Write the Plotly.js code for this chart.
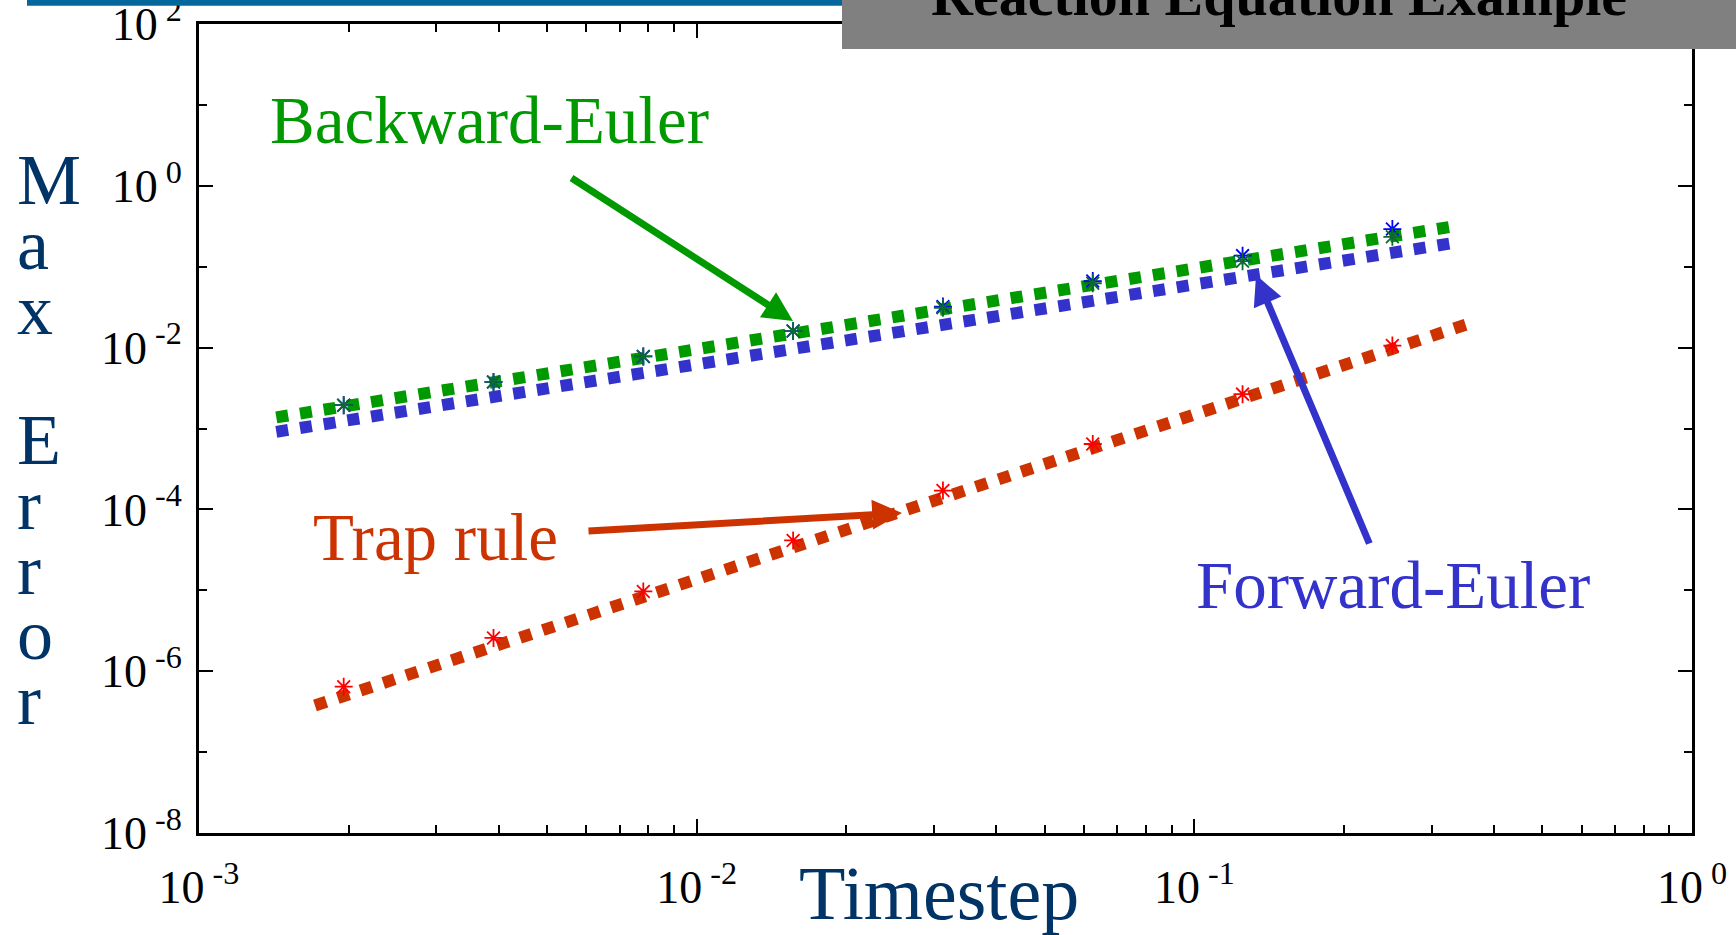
<!DOCTYPE html>
<html><head><meta charset="utf-8">
<script src="https://cdn.plot.ly/plotly-3.0.1.min.js"></script>
<style>html,body{margin:0;padding:0;background:#fff;overflow:hidden}#chart{width:1736px;height:935px;}</style>
</head><body><div id="chart"></div>
<script>
// ---- data ----
const timesteps = [1/512, 1/256, 1/128, 1/64, 1/32, 1/16, 1/8, 1/4];
const backwardEulerError = [0.00194, 0.00376, 0.00777, 0.0160, 0.0311, 0.0624, 0.117, 0.234];
const forwardEulerError  = [0.00194, 0.00376, 0.00777, 0.0160, 0.0321, 0.0664, 0.137, 0.292];
const trapRuleError      = [6.43e-7, 2.58e-6, 9.68e-6, 4.13e-5, 1.71e-4, 6.43e-4, 2.66e-3, 1.06e-2];
const eulerFitX          = [0.00143, 0.327];
const backwardEulerFitY  = [0.00137, 0.311];
const forwardEulerFitY   = [0.00091, 0.194];
const trapFitX           = [0.00171, 0.353];
const trapFitY           = [3.76e-7, 0.0194];
const xTickVals  = [1e-3, 1e-2, 1e-1, 1];
const xTickExp   = ['-3', '-2', '-1', '0'];
const yTickVals  = [1e2, 1, 1e-2, 1e-4, 1e-6, 1e-8];
const yTickExp   = ['2', '0', '-2', '-4', '-6', '-8'];
const yMinorVals = [1e1, 1e-1, 1e-3, 1e-5, 1e-7];
const yTitle = 'Max Error';
const xTitle = 'Timestep';
const slideTitle = 'Reaction Equation Example';
const labelBE = 'Backward-Euler', labelFE = 'Forward-Euler', labelTR = 'Trap rule';

// ---- layout helpers (pixel -> paper) ----
const W = 1736, H = 935, L = 199, R = 1692, T = 24, B = 833;
const px = x => (x - L) / (R - L);
const py = y => (B - y) / (B - T);
const serif = 'Liberation Serif, Times New Roman, serif';
const tickTxt = e => '10<sup>\u00a0' + e + '</sup>';

const GREEN = '#009900', BLUE = '#3333cc', ORANGE = '#cc3300', NAVY = '#003366';
const dotted = (c) => ({color: c, width: 12, dash: '12px,12px'});
const star = (c) => ({symbol: 'asterisk-open', size: 15, color: c, line: {color: c, width: 1.8}});

const traces = [
  {x: eulerFitX, y: forwardEulerFitY, mode: 'lines', line: dotted(BLUE)},
  {x: eulerFitX, y: backwardEulerFitY, mode: 'lines', line: dotted(GREEN)},
  {x: trapFitX, y: trapFitY, mode: 'lines', line: dotted(ORANGE)},
  {x: timesteps, y: forwardEulerError, mode: 'markers', marker: star('#0000ff')},
  {x: timesteps, y: backwardEulerError, mode: 'markers', marker: star('#0b6b2e')},
  {x: timesteps, y: trapRuleError, mode: 'markers', marker: star('#ff0000')}
];

const annotations = [];
// stacked y-axis title
yTitle.split('').forEach((ch, i) => {
  if (ch === ' ') return;
  const baseline = 204 + i * 65;
  annotations.push({xref: 'paper', yref: 'paper', x: px(15), y: py(baseline - 66),
    xanchor: 'left', yanchor: 'top', showarrow: false, text: ch,
    font: {family: serif, size: 72, color: NAVY}});
});
annotations.push({xref: 'paper', yref: 'paper', x: px(939), y: py(849), xanchor: 'center', yanchor: 'top',
  showarrow: false, text: xTitle, font: {family: serif, size: 76, color: NAVY}});
annotations.push({xref: 'paper', yref: 'paper', x: px(1279), y: py(-39), xanchor: 'center', yanchor: 'top',
  showarrow: false, text: '<b>' + slideTitle + '</b>', font: {family: serif, size: 58, color: '#000'}});
annotations.push({xref: 'paper', yref: 'paper', x: px(489), y: py(81), xanchor: 'center', yanchor: 'top',
  showarrow: false, text: labelBE, font: {family: serif, size: 67, color: GREEN}});
annotations.push({xref: 'paper', yref: 'paper', x: px(435), y: py(498), xanchor: 'center', yanchor: 'top',
  showarrow: false, text: labelTR, font: {family: serif, size: 67, color: ORANGE}});
annotations.push({xref: 'paper', yref: 'paper', x: px(1393), y: py(546), xanchor: 'center', yanchor: 'top',
  showarrow: false, text: labelFE, font: {family: serif, size: 67, color: BLUE}});
// arrows
const arrow = (tip, tail, c) => ({xref: 'paper', yref: 'paper', x: px(tip[0]), y: py(tip[1]),
  ax: tail[0] - tip[0], ay: tail[1] - tip[1], text: '', showarrow: true,
  arrowhead: 2, arrowsize: 0.85, arrowwidth: 7, arrowcolor: c, standoff: 0});
annotations.push(arrow([793, 321], [570, 177], GREEN));
annotations.push(arrow([902, 513], [587, 531], ORANGE));
annotations.push(arrow([1256, 275], [1370, 545], BLUE));

const axisCommon = {showline: true, linewidth: 3, linecolor: '#000', mirror: 'ticks',
  ticks: 'inside', ticklen: 14, tickwidth: 2, tickcolor: '#000', showgrid: false, zeroline: false,
  tickfont: {family: serif, size: 46, color: '#000'}, ticklabeloverflow: 'allow'};

const layout = {
  width: W, height: H, showlegend: false,
  paper_bgcolor: '#fff', plot_bgcolor: '#fff',
  margin: {l: L, r: W - R, t: T, b: H - B, pad: 0},
  xaxis: Object.assign({}, axisCommon, {type: 'log', range: [-3, 0], tickmode: 'array',
    tickvals: xTickVals, ticktext: xTickExp.map(tickTxt), ticklabelstandoff: 12,
    minor: {dtick: 'D1', ticks: 'inside', ticklen: 8, tickwidth: 2, tickcolor: '#000'}}),
  yaxis: Object.assign({}, axisCommon, {type: 'log', range: [-8, 2], tickmode: 'array',
    tickvals: yTickVals, ticktext: yTickExp.map(tickTxt), ticklabelstandoff: 5,
    minor: {tickmode: 'array', tickvals: yMinorVals, ticks: 'inside', ticklen: 8, tickwidth: 2, tickcolor: '#000'}}),
  shapes: [
    {type: 'rect', xref: 'paper', yref: 'paper', layer: 'above', x0: px(27), x1: px(842), y0: py(0), y1: py(5.7),
     fillcolor: '#03679b', line: {width: 0}},
    {type: 'rect', xref: 'paper', yref: 'paper', layer: 'above', x0: px(842), x1: px(1740), y0: py(-5), y1: py(49),
     fillcolor: '#808080', line: {width: 0}}
  ],
  annotations: annotations
};

Plotly.newPlot('chart', traces, layout, {displayModeBar: false, staticPlot: true});
</script></body></html>
